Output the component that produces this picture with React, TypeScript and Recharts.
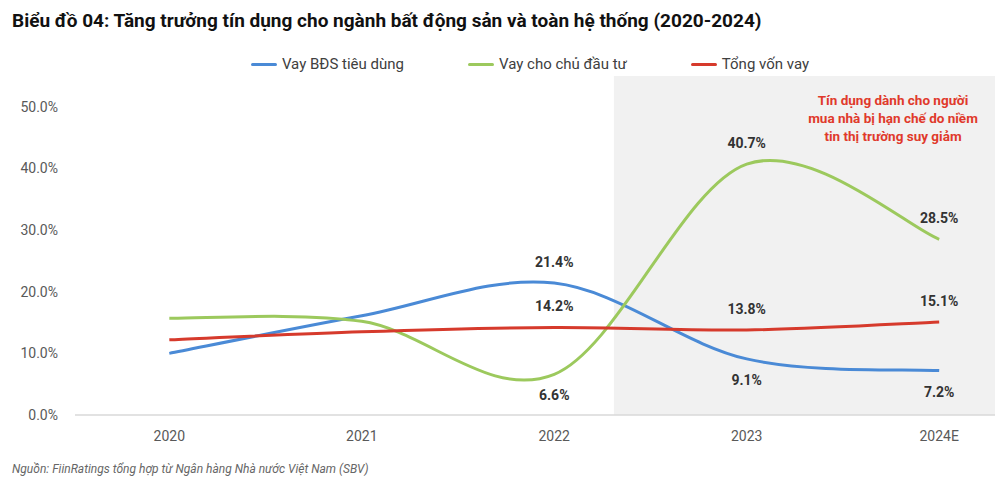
import React from 'react';
import {
  LineChart,
  Line,
  XAxis,
  YAxis,
  ReferenceArea,
  LabelList,
} from 'recharts';

const years = ['2020', '2021', '2022', '2023', '2024E'];
const consumerLoans = [10.0, 16.1, 21.4, 9.1, 7.2];
const developerLoans = [15.7, 15.2, 6.6, 40.7, 28.5];
const totalLoans = [12.2, 13.5, 14.2, 13.8, 15.1];
const yTicks = [0, 10, 20, 30, 40, 50];

const series = [
  { key: 'consumer', name: 'Vay BĐS tiêu dùng', color: '#4a8ad6', values: consumerLoans },
  { key: 'developer', name: 'Vay cho chủ đầu tư', color: '#9cc95d', values: developerLoans },
  { key: 'total', name: 'Tổng vốn vay', color: '#d63a2c', values: totalLoans },
];

// where the value label sits for each point (null = no label)
const labelSide: Record<string, (string | null)[]> = {
  consumer: [null, null, 'above', 'below', 'below'],
  developer: [null, null, 'below', 'above', 'above'],
  total: [null, null, 'above', 'above', 'above'],
};

const data = years.map((year, i) => ({
  x: i,
  year,
  consumer: consumerLoans[i],
  developer: developerLoans[i],
  total: totalLoans[i],
}));

// Excel-like smooth line (Catmull-Rom through the points)
const excelSmooth = (context: any) => {
  let pts: number[][] = [];
  return {
    areaStart() {},
    areaEnd() {},
    lineStart() {
      pts = [];
    },
    lineEnd() {
      if (!pts.length) return;
      context.moveTo(pts[0][0], pts[0][1]);
      for (let i = 0; i < pts.length - 1; i++) {
        const p0 = pts[i - 1] || pts[i];
        const p1 = pts[i];
        const p2 = pts[i + 1];
        const p3 = pts[i + 2] || p2;
        context.bezierCurveTo(
          p1[0] + (p2[0] - p0[0]) / 6,
          p1[1] + (p2[1] - p0[1]) / 6,
          p2[0] - (p3[0] - p1[0]) / 6,
          p2[1] - (p3[1] - p1[1]) / 6,
          p2[0],
          p2[1]
        );
      }
    },
    point(x: number, y: number) {
      pts.push([+x, +y]);
    },
  };
};

const makeLabel = (key: string) => (props: any) => {
  const { x, y, value, index } = props;
  const side = labelSide[key][index];
  if (!side) return null;
  const dy = side === 'above' ? -16 : 26;
  return (
    <text
      x={x}
      y={y + dy}
      textAnchor="middle"
      fontSize={14}
      fontWeight={700}
      fill="#333"
      fontFamily="Roboto, sans-serif"
    >
      {`${Number(value).toFixed(1)}%`}
    </text>
  );
};

export default function App() {
  return (
    <div
      style={{
        position: 'absolute',
        left: 0,
        top: 0,
        width: 1000,
        height: 487,
        background: '#fff',
        fontFamily: 'Roboto, sans-serif',
        overflow: 'hidden',
      }}
    >
      <div
        style={{
          position: 'absolute',
          left: 12,
          top: 9,
          fontSize: 19,
          fontWeight: 700,
          color: '#111',
          whiteSpace: 'nowrap',
        }}
      >
        Biểu đồ 04: Tăng trưởng tín dụng cho ngành bất động sản và toàn hệ thống (2020-2024)
      </div>

      <div
        style={{
          position: 'absolute',
          top: 55,
          left: 0,
          width: 1060,
          display: 'flex',
          justifyContent: 'center',
          gap: 64,
          fontSize: 15,
          color: '#404040',
        }}
      >
        {series.map((s) => (
          <div key={s.key} style={{ display: 'flex', alignItems: 'center' }}>
            <span
              style={{
                display: 'inline-block',
                width: 26,
                height: 3,
                background: s.color,
                marginRight: 5,
                borderRadius: 2,
              }}
            />
            {s.name}
          </div>
        ))}
      </div>

      <LineChart
        width={1000}
        height={487}
        data={data}
        margin={{ top: 76, right: 5, bottom: 42, left: 0 }}
        style={{ position: 'absolute', left: 0, top: 0 }}
      >
        <ReferenceArea
          x1={2.31}
          x2={4.29}
          y1={0}
          y2={55}
          fill="#f1f1f1"
          fillOpacity={1}
          stroke="none"
          ifOverflow="visible"
        />
        <XAxis
          dataKey="x"
          type="number"
          domain={[-0.49, 4.29]}
          ticks={[0, 1, 2, 3, 4]}
          tickFormatter={(v) => years[v]}
          axisLine={{ stroke: '#d9d9d9', strokeWidth: 1.5 }}
          tickLine={false}
          tickSize={0}
          tickMargin={16}
          height={30}
          tick={{ fontSize: 14, fill: '#595959' }}
          allowDataOverflow
        />
        <YAxis
          type="number"
          domain={[0, 55]}
          ticks={yTicks}
          tickFormatter={(v) => `${v.toFixed(1)}%`}
          axisLine={false}
          tickLine={false}
          tickSize={0}
          tickMargin={17}
          width={75}
          tick={{ fontSize: 14, fill: '#595959' }}
          allowDataOverflow
        />
        {series.map((s) => (
          <Line
            key={s.key}
            dataKey={s.key}
            name={s.name}
            type={excelSmooth as any}
            stroke={s.color}
            strokeWidth={3}
            dot={false}
            activeDot={false}
            isAnimationActive={false}
          >
            <LabelList dataKey={s.key} content={makeLabel(s.key)} />
          </Line>
        ))}
      </LineChart>

      <div
        style={{
          position: 'absolute',
          left: 793,
          width: 200,
          top: 91,
          textAlign: 'center',
          color: '#e0392b',
          fontSize: 13.5,
          fontWeight: 700,
          lineHeight: '18px',
        }}
      >
        Tín dụng dành cho người
        <br />
        mua nhà bị hạn chế do niềm
        <br />
        tin thị trường suy giảm
      </div>

      <div
        style={{
          position: 'absolute',
          left: 12,
          top: 462,
          fontSize: 12,
          fontStyle: 'italic',
          color: '#666',
        }}
      >
        Nguồn: FiinRatings tổng hợp từ Ngân hàng Nhà nước Việt Nam (SBV)
      </div>
    </div>
  );
}
